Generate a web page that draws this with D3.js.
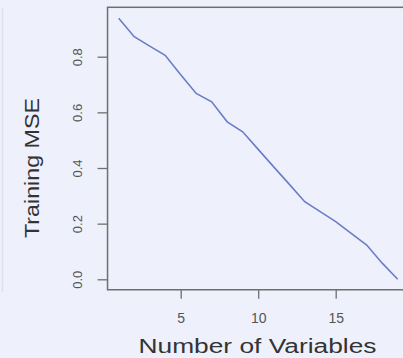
<!DOCTYPE html>
<html>
<head>
<meta charset="utf-8">
<script src="https://cdn.jsdelivr.net/npm/d3@7"></script>
<style>
  html, body { margin: 0; padding: 0; background: #eef1fc; }
  svg { display: block; font-family: "Liberation Sans", Arial, sans-serif; }
</style>
</head>
<body>
<svg id="chart" width="403" height="358"></svg>
<script>
// number of variables in the model
const numVars = d3.range(1, 20)
// training MSE
const trainMSE = [0.938, 0.872, 0.838, 0.805, 0.735, 0.668, 0.638, 0.566, 0.530, 0.467,
  0.404, 0.342, 0.279, 0.243, 0.207, 0.165, 0.123, 0.058, 0.0]
const xTicks = [5, 10, 15]
const yTicks = [0, 0.2, 0.4, 0.6, 0.8]

const svg = d3.select("#chart")

// light frame line on the far left
svg.append("line")
  .attr("x1", 2.5).attr("x2", 2.5)
  .attr("y1", 8).attr("y2", 292)
  .attr("stroke", "#dde0ee")
  .attr("stroke-width", 1.5)

// scales (R style: 4% padding on both axes)
const x = d3.scaleLinear().domain([1, 19]).range([118.7, 397.7])
const y = d3.scaleLinear().domain([0, 0.8]).range([279.3, 56.7])

const xMin = 1 - 0.04 * 18, xMax = 19 + 0.04 * 18
const yMin = -0.04 * 0.94, yMax = 0.94 * 1.04

// plot box
svg.append("rect")
  .attr("x", x(xMin))
  .attr("y", y(yMax))
  .attr("width", x(xMax) - x(xMin))
  .attr("height", y(yMin) - y(yMax))
  .attr("fill", "none")
  .attr("stroke", "#6f6f6f")
  .attr("stroke-width", 1.5)

// x axis
const gx = svg.append("g")
  .attr("transform", `translate(0,${y(yMin)})`)
  .call(d3.axisBottom(x).tickValues(xTicks).tickSize(9).tickPadding(14))
gx.select(".domain").remove()
gx.selectAll("line").attr("stroke", "#6f6f6f").attr("stroke-width", 1.3)
gx.selectAll("text").attr("fill", "#555").style("font-size", "14px")

// y axis
const gy = svg.append("g")
  .attr("transform", `translate(${x(xMin)},0)`)
  .call(d3.axisLeft(y).tickValues(yTicks).tickSize(10).tickFormat(d3.format(".1f")))
gy.select(".domain").remove()
gy.selectAll("line").attr("stroke", "#6f6f6f").attr("stroke-width", 1.3)
gy.selectAll("text")
  .attr("fill", "#555")
  .style("font-size", "13px")
  .attr("x", null)
  .attr("dy", null)
  .attr("text-anchor", "middle")
  .attr("transform", "translate(-26,0) rotate(-90)")

// axis titles
svg.append("text")
  .attr("x", 257.5)
  .attr("y", 353)
  .attr("text-anchor", "middle")
  .attr("fill", "#333")
  .style("font-size", "20px")
  .attr("textLength", 238)
  .attr("lengthAdjust", "spacingAndGlyphs")
  .text("Number of Variables")

svg.append("text")
  .attr("transform", "translate(39,168) rotate(-90)")
  .attr("text-anchor", "middle")
  .attr("fill", "#333")
  .style("font-size", "21px")
  .attr("textLength", 140)
  .attr("lengthAdjust", "spacingAndGlyphs")
  .text("Training MSE")

// the MSE line
const line = d3.line()
  .x((d, i) => x(numVars[i]))
  .y(d => y(d))

svg.append("path")
  .datum(trainMSE)
  .attr("fill", "none")
  .attr("stroke", "#6b7cc9")
  .attr("stroke-width", 1.6)
  .attr("d", line)
</script>
</body>
</html>
